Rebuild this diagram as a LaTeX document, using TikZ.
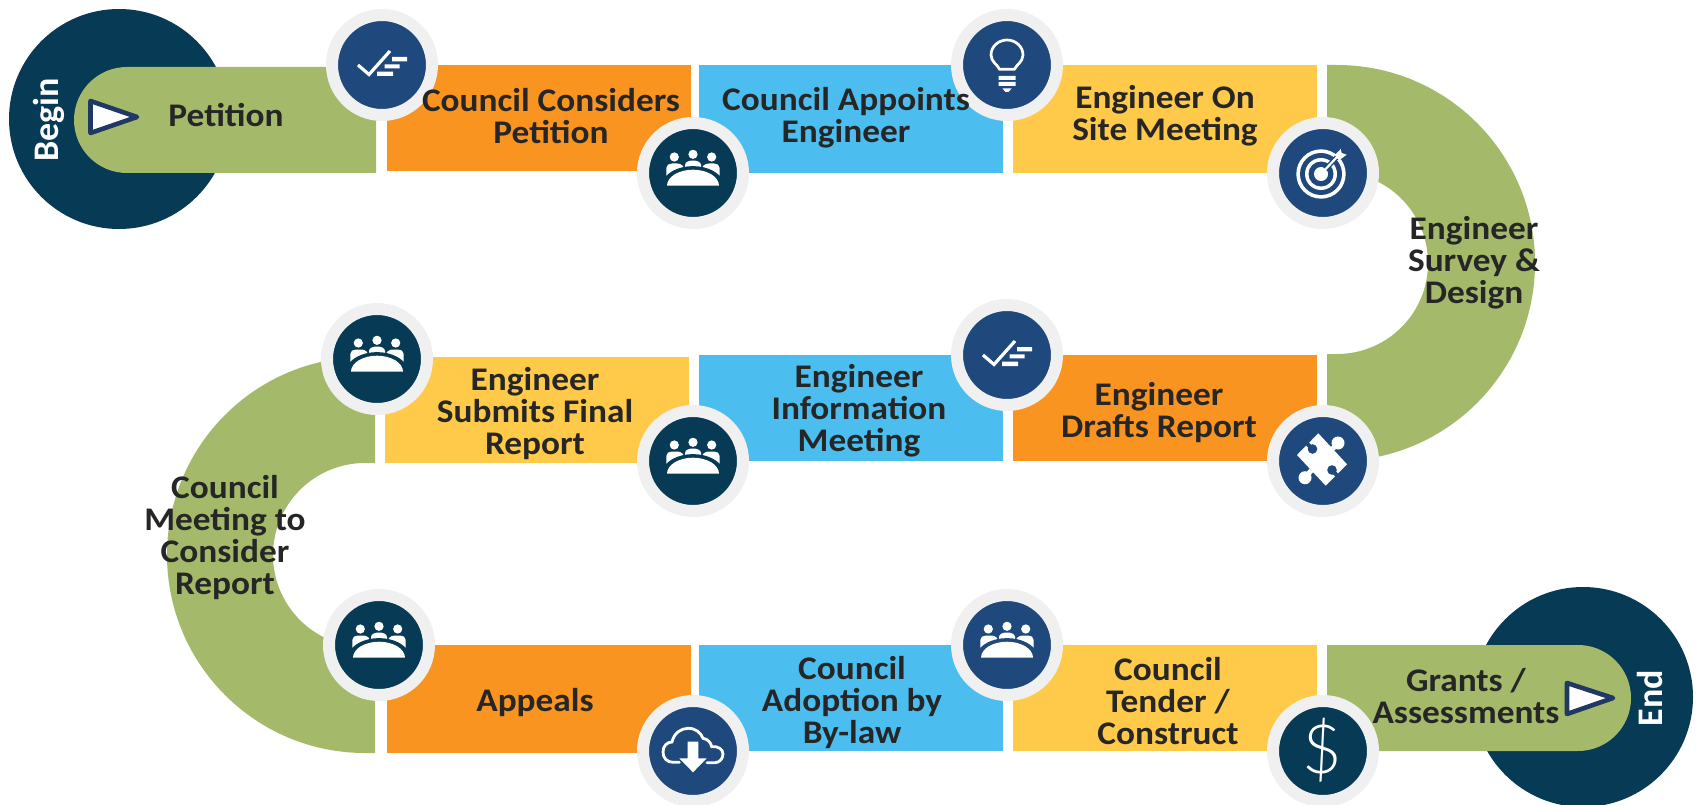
\documentclass[tikz,border=0pt]{standalone}
\usepackage{fontspec}
\setmainfont[FakeStretch=1.07]{Carlito}
\newfontfamily\capfont{Carlito}
\newfontfamily\dollarfont{Lato Light}
\definecolor{pgreen}{HTML}{A4B96A}
\definecolor{porange}{HTML}{F8941F}
\definecolor{pblue}{HTML}{4BBEEF}
\definecolor{pyellow}{HTML}{FFC94A}
\definecolor{navy}{HTML}{1F497D}
\definecolor{deep}{HTML}{073A54}
\definecolor{ringgray}{HTML}{F0F0F0}
\definecolor{ink}{HTML}{262626}
\definecolor{tri}{HTML}{1F3864}
\tikzset{
  badge/.style={circle,draw=ringgray,line width=12pt,minimum size=100pt,inner sep=0pt,fill=#1},
  lbl/.style={anchor=base,align=center,text=ink,inner sep=0pt,font=\fontsize{33}{32}\selectfont\bfseries},
  endlbl/.style={anchor=base,text=white,inner sep=0pt,rotate=90,font=\capfont\fontsize{36}{36}\selectfont\bfseries},
  playmark/.style={draw=tri,fill=white,line width=4.6pt,line join=round},
  pics/groupicon/.style={code={
    \fill[white] (0,-18.7) circle (4.6pt) (-18.7,-16) circle (4.6pt) (18.7,-16) circle (4.6pt);
    \fill[white] (-8,-4) -- (-8,-8) .. controls (-8,-11) and (-4,-12.5) .. (0,-12.5) .. controls (4,-12.5) and (8,-11) .. (8,-8) -- (8,-4) -- cycle;
    \fill[white] (-26.7,4) -- (-26.7,-5) .. controls (-26.7,-8) and (-24,-9.5) .. (-21,-9.5) -- (-16,-9.5) .. controls (-12,-9.5) and (-9,-7) .. (-8,-3) -- (-8,8) -- (-26.7,8) -- cycle;
    \fill[white] (26.7,4) -- (26.7,-5) .. controls (26.7,-8) and (24,-9.5) .. (21,-9.5) -- (16,-9.5) .. controls (12,-9.5) and (9,-7) .. (8,-3) -- (8,8) -- (26.7,8) -- cycle;
    \fill[#1] (-32,12.7) -- (-32,8.5) -- (-30,8) .. controls (-27,0) and (-15,-6.9) .. (0,-6.9) .. controls (15,-6.9) and (27,0) .. (30,8) -- (32,8.5) -- (32,12.7) -- cycle;
    \fill[white] (-26,12.7) .. controls (-26,3.9) and (-14.4,-3.3) .. (0,-3.3) .. controls (14.4,-3.3) and (26,3.9) .. (26,12.7) -- cycle;
  }},
  pics/checkicon/.style={code={
    \draw[white,line width=3.2pt] (-24,0) -- (-13,9.5) -- (8,-14);
    \fill[white] (10,-8) rectangle (25,-3.7) (2.7,-0.7) rectangle (17.7,3.3) (-5,6.7) rectangle (11,11);
  }},
  pics/bulbicon/.style={code={
    \draw[white,line width=2.7pt,line join=round] (-7.5,4.3) .. controls (-9,0) and (-16,-3) .. (-16,-10) .. controls (-16,-19) and (-8,-25) .. (0,-25) .. controls (8,-25) and (16,-19) .. (16,-10) .. controls (16,-3) and (9,0) .. (7.5,4.3) -- cycle;
    \fill[white] (-8.5,11) rectangle (8.5,15) (-8.5,17) rectangle (8.5,21);
    \fill[white] (-4.5,23.5) -- (4.5,23.5) -- (1.5,27) -- (-1.5,27) -- cycle;
  }},
  pics/targeticon/.style={code={
    \fill[white] (-2,1) circle (24.7pt);
    \fill[#1] (-2,1) circle (21pt);
    \fill[white] (-2,1) circle (16pt);
    \fill[#1] (-2,1) circle (12.5pt);
    \fill[white] (-2,1) circle (7pt);
    \draw[#1,line width=5pt] (-2,1) -- (14,-16);
    \draw[white,line width=2.2pt] (-2,1) -- (14,-16);
    \fill[white] (12,-18) -- (17.7,-24) -- (18.7,-20) -- (23.7,-18.3) -- (17,-13.3) -- (14,-14.5) -- cycle;
    \fill[white] (-2,1) circle (6.5pt);
  }},
  pics/puzzleicon/.style={code={
    \fill[white] (-26,-6) -- (-4.7,-27.7) -- (24,3.3) -- (2.7,24.7) -- cycle;
    \draw[white,line width=5pt] (9.6,-12.2) -- (15,-18);
    \fill[white] (15,-18) circle (6.5pt);
    \draw[white,line width=5pt] (-11.6,9.3) -- (-18,16.7);
    \fill[white] (-18,16.7) circle (6.5pt);
    \draw[#1,line width=4pt] (-16,-17.5) -- (-11.5,-13);
    \fill[#1] (-10.5,-12) circle (4.8pt);
    \draw[#1,line width=4pt] (14,14.5) -- (10,10);
    \fill[#1] (9,9) circle (4.8pt);
  }},
  pics/cloudicon/.style={code={
    \draw[white,line width=2.8pt,line cap=round] (-13.7,11.3) -- (-20,11.3) .. controls (-26,11.3) and (-30,7) .. (-30,1) .. controls (-30,-5) and (-26,-9) .. (-21,-9) .. controls (-19,-18) and (-12,-22.7) .. (-4.7,-22.7) .. controls (3,-22.7) and (8,-18) .. (10,-12.7) .. controls (15,-12) and (18,-8) .. (18.7,-4.3) .. controls (25,-5) and (30,-2) .. (30,3) .. controls (30,8) and (26,11.7) .. (22,11.7) -- (14,11.7);
    \fill[white] (-5.3,-9.3) -- (5.3,-9.3) -- (5.3,7.3) -- (13.7,7.3) -- (0,21.3) -- (-13.7,7.3) -- (-5.3,7.3) -- cycle;
  }}
}
\begin{document}
\begin{tikzpicture}[x=1pt,y=-1pt]
\useasboundingbox (0,0) rectangle (1696,805);
\clip (0,0) rectangle (1696,805);
% end caps
\fill[deep] (119,119) circle (110pt);
\fill[deep] (1583,697) circle (110pt);
% green pieces
\fill[pgreen] (127,67) arc[start angle=90,end angle=270,radius=53pt] -- (376,173) -- (376,67) -- cycle;
\fill[pgreen] (1337,65) arc[start angle=90,end angle=-90,radius=198pt] -- (1327,461) -- (1327,354) -- (1337,354) arc[start angle=-90,end angle=90,radius=91pt] -- (1327,172) -- (1327,65) -- cycle;
\fill[pgreen] (365,357) arc[start angle=90,end angle=270,radius=198pt] -- (375,753) -- (375,647) -- (365,647) arc[start angle=270,end angle=90,radius=92pt] -- (375,463) -- (375,357) -- cycle;
\fill[pgreen] (1578,645) arc[start angle=90,end angle=-90,radius=53pt] -- (1327,751) -- (1327,645) -- cycle;
% row 1
\fill[porange] (387,65) rectangle (691,171);
\fill[pblue] (699,65) rectangle (1003,173);
\fill[pyellow] (1013,65) rectangle (1317,173);
% row 2
\fill[pyellow] (385,357) rectangle (689,463);
\fill[pblue] (699,355) rectangle (1003,461);
\fill[porange] (1013,355) rectangle (1317,461);
% row 3
\fill[porange] (387,645) rectangle (691,753);
\fill[pblue] (699,645) rectangle (1003,751);
\fill[pyellow] (1013,645) rectangle (1317,751);
% play marks
\path[playmark] (90.5,101) -- (90.5,133) -- (137,117) -- cycle;
\path[playmark] (1567,683) -- (1567,714) -- (1613,698) -- cycle;
% badges
\node[badge=navy] (b1) at (382,65) {};
\node[badge=deep] (b2) at (693,173) {};
\node[badge=navy] (b3) at (1007,65) {};
\node[badge=navy] (b4) at (1323,173) {};
\node[badge=navy] (b5) at (1323,461) {};
\node[badge=navy] (b6) at (1007,355) {};
\node[badge=deep] (b7) at (693,461) {};
\node[badge=deep] (b8) at (377,359) {};
\node[badge=deep] (b9) at (379,645) {};
\node[badge=navy] (b10) at (693,751) {};
\node[badge=navy] (b11) at (1007,645) {};
\node[badge=deep] (b12) at (1323,751) {};
% icons
\pic at (b1) {checkicon};
\pic at (b2) {groupicon=deep};
\pic at (b3) {bulbicon};
\pic at (b4) {targeticon=navy};
\pic at (b5) {puzzleicon=navy};
\pic at (b6) {checkicon};
\pic at (b7) {groupicon=deep};
\pic at (b8) {groupicon=deep};
\pic at (b9) {groupicon=deep};
\pic at (b10) {cloudicon};
\pic at (b11) {groupicon=navy};
\node[text=white,inner sep=0pt,font=\dollarfont\fontsize{68}{68}\selectfont] (dollar) at (1322,750) {\$};
% labels
\node[endlbl] (tbegin) at (58,120) {Begin};
\node[endlbl] (tend) at (1662,698) {End};
\node[lbl] (t1) at (226,127) {Petition};
\node[lbl] (t2) at (551,144) {Council Considers\\Petition};
\node[lbl] (t3) at (846,143) {Council Appoints\\Engineer};
\node[lbl] (t4) at (1165,141) {Engineer On\\Site Meeting};
\node[lbl] (t5) at (1474,303) {Engineer\\Survey \&\\Design};
\node[lbl] (t6) at (1159,437) {Engineer\\Drafts Report};
\node[lbl] (t7) at (859,451) {Engineer\\Information\\Meeting};
\node[lbl] (t8) at (535,454) {Engineer\\Submits Final\\Report};
\node[lbl] (t9) at (225,594) {Council\\Meeting to\\Consider\\Report};
\node[lbl] (t10) at (535,711) {Appeals};
\node[lbl] (t11) at (852,743) {Council\\Adoption by\\By-law};
\node[lbl] (t12) at (1168,744) {Council\\Tender /\\Construct};
\node[lbl] (t13) at (1466,723) {Grants /\\Assessments};
\end{tikzpicture}
\end{document}
